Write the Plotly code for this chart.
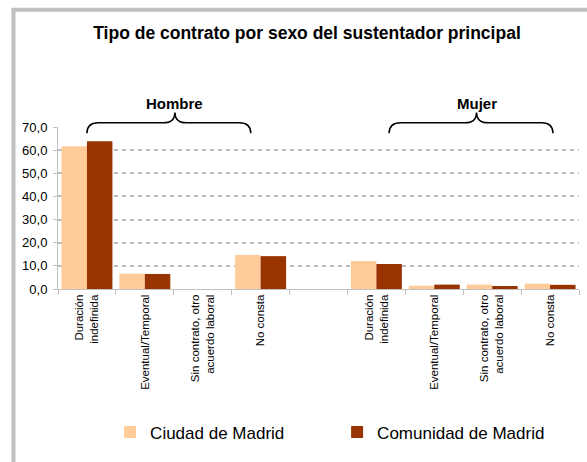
import plotly.graph_objects as go

# ---- data ----
categorias = ["Duración<br>indefinida", "Eventual/Temporal",
              "Sin contrato, otro<br>acuerdo laboral", "No consta"]
grupos = ["Hombre", "Mujer"]
hombre_ciudad = [61.7, 6.6, 0.0, 14.7]
hombre_comunidad = [63.8, 6.5, 0.0, 14.2]
mujer_ciudad = [12.1, 1.4, 1.9, 2.3]
mujer_comunidad = [10.8, 1.9, 1.3, 1.8]
series = ["Ciudad de Madrid", "Comunidad de Madrid"]
y_ticks = [0, 10, 20, 30, 40, 50, 60, 70]

# x slots: 4 for Hombre, one empty slot, 4 for Mujer
pos_h = list(range(len(categorias)))
pos_m = [p + len(categorias) + 1 for p in pos_h]
x_pos = pos_h + pos_m
n_slots = len(x_pos) + 1

colors = ["#FFCC99", "#993300"]
FONT = "Liberation Sans, Arial, sans-serif"

fig = go.Figure()
fig.add_trace(go.Bar(x=x_pos, y=hombre_ciudad + mujer_ciudad, name=series[0],
                     marker=dict(color=colors[0], line=dict(width=0))))
fig.add_trace(go.Bar(x=x_pos, y=hombre_comunidad + mujer_comunidad, name=series[1],
                     marker=dict(color=colors[1], line=dict(width=0))))

# ---- braces above each group ----
def brace(x0, x1, xc, y_end, y_mid, y_peak, r):
    return (f"M {x0},{y_end} Q {x0},{y_mid} {x0 + r},{y_mid} "
            f"L {xc - r},{y_mid} Q {xc},{y_mid} {xc},{y_peak} "
            f"Q {xc},{y_mid} {xc + r},{y_mid} "
            f"L {x1 - r},{y_mid} Q {x1},{y_mid} {x1},{y_end}")

y_end, y_mid, y_peak = 0.961, 1.026, 1.09
braces = [(pos_h[0], pos_h[-1] - 0.17, 1.52), (pos_m[0] + 0.22, pos_m[-1] + 0.05, 6.73)]
shapes = []
annotations = []
for (b0, b1, bc), g in zip(braces, grupos):
    shapes.append(dict(type="path", xref="x", yref="paper",
                       path=brace(b0, b1, bc, y_end, y_mid, y_peak, 0.2),
                       line=dict(color="black", width=1.5)))
    annotations.append(dict(x=bc, y=1.146, xref="x", yref="paper", text=f"<b>{g}</b>",
                            showarrow=False, font=dict(size=15, color="black", family=FONT),
                            xanchor="center", yanchor="middle"))

# frame (gray border top & left)
shapes.append(dict(type="rect", xref="paper", yref="paper",
                   x0=-0.0855, x1=1.2, y0=-1.3, y1=1.724,
                   line=dict(color="#c0c0c0", width=4), layer="below"))

fig.update_layout(
    width=587, height=462,
    margin=dict(l=58, r=8, t=127, b=173),
    paper_bgcolor="white", plot_bgcolor="white",
    font=dict(family=FONT, color="black"),
    separators=",.",
    title=dict(text="<b>Tipo de contrato por sexo del sustentador principal</b>",
               x=0.523, xref="container", xanchor="center",
               y=1 - 33 / 462, yref="container", yanchor="middle",
               font=dict(size=17.5, color="black", family=FONT)),
    barmode="group", bargap=0.12, bargroupgap=0,
    showlegend=True,
    legend=dict(orientation="h", x=0.100, xanchor="left", y=-0.886, yanchor="middle",
                yref="paper", font=dict(size=17, color="black", family=FONT),
                entrywidth=182, entrywidthmode="pixels", bgcolor="rgba(0,0,0,0)"),
    shapes=shapes, annotations=annotations,
)

fig.update_xaxes(range=[-0.5, n_slots - 0.5], tickmode="array", tickvals=x_pos,
                 ticktext=categorias + categorias, tickangle=-90, ticks="",
                 tickfont=dict(size=11.5, color="black", family=FONT),
                 showline=True, linecolor="#c0c0c0", linewidth=1,
                 showgrid=False, zeroline=False,
                 minor=dict(tickmode="array",
                            tickvals=[p - 0.5 for p in range(n_slots + 1)],
                            ticks="outside", ticklen=5, tickcolor="#c0c0c0", showgrid=False))
fig.update_yaxes(range=[0, 70], tickmode="array", tickvals=y_ticks, tickformat=".1f",
                 tickfont=dict(size=13, color="black", family=FONT),
                 ticks="outside", ticklen=4, tickcolor="#c0c0c0", ticklabelstandoff=3,
                 showline=True, linecolor="#c0c0c0", linewidth=1,
                 showgrid=True, gridcolor="#bcbcbc", griddash="4px,4px", gridwidth=1.5,
                 zeroline=False)

fig.write_html("out.html", config={"displayModeBar": False},
               post_script="document.body.style.margin='0';")
